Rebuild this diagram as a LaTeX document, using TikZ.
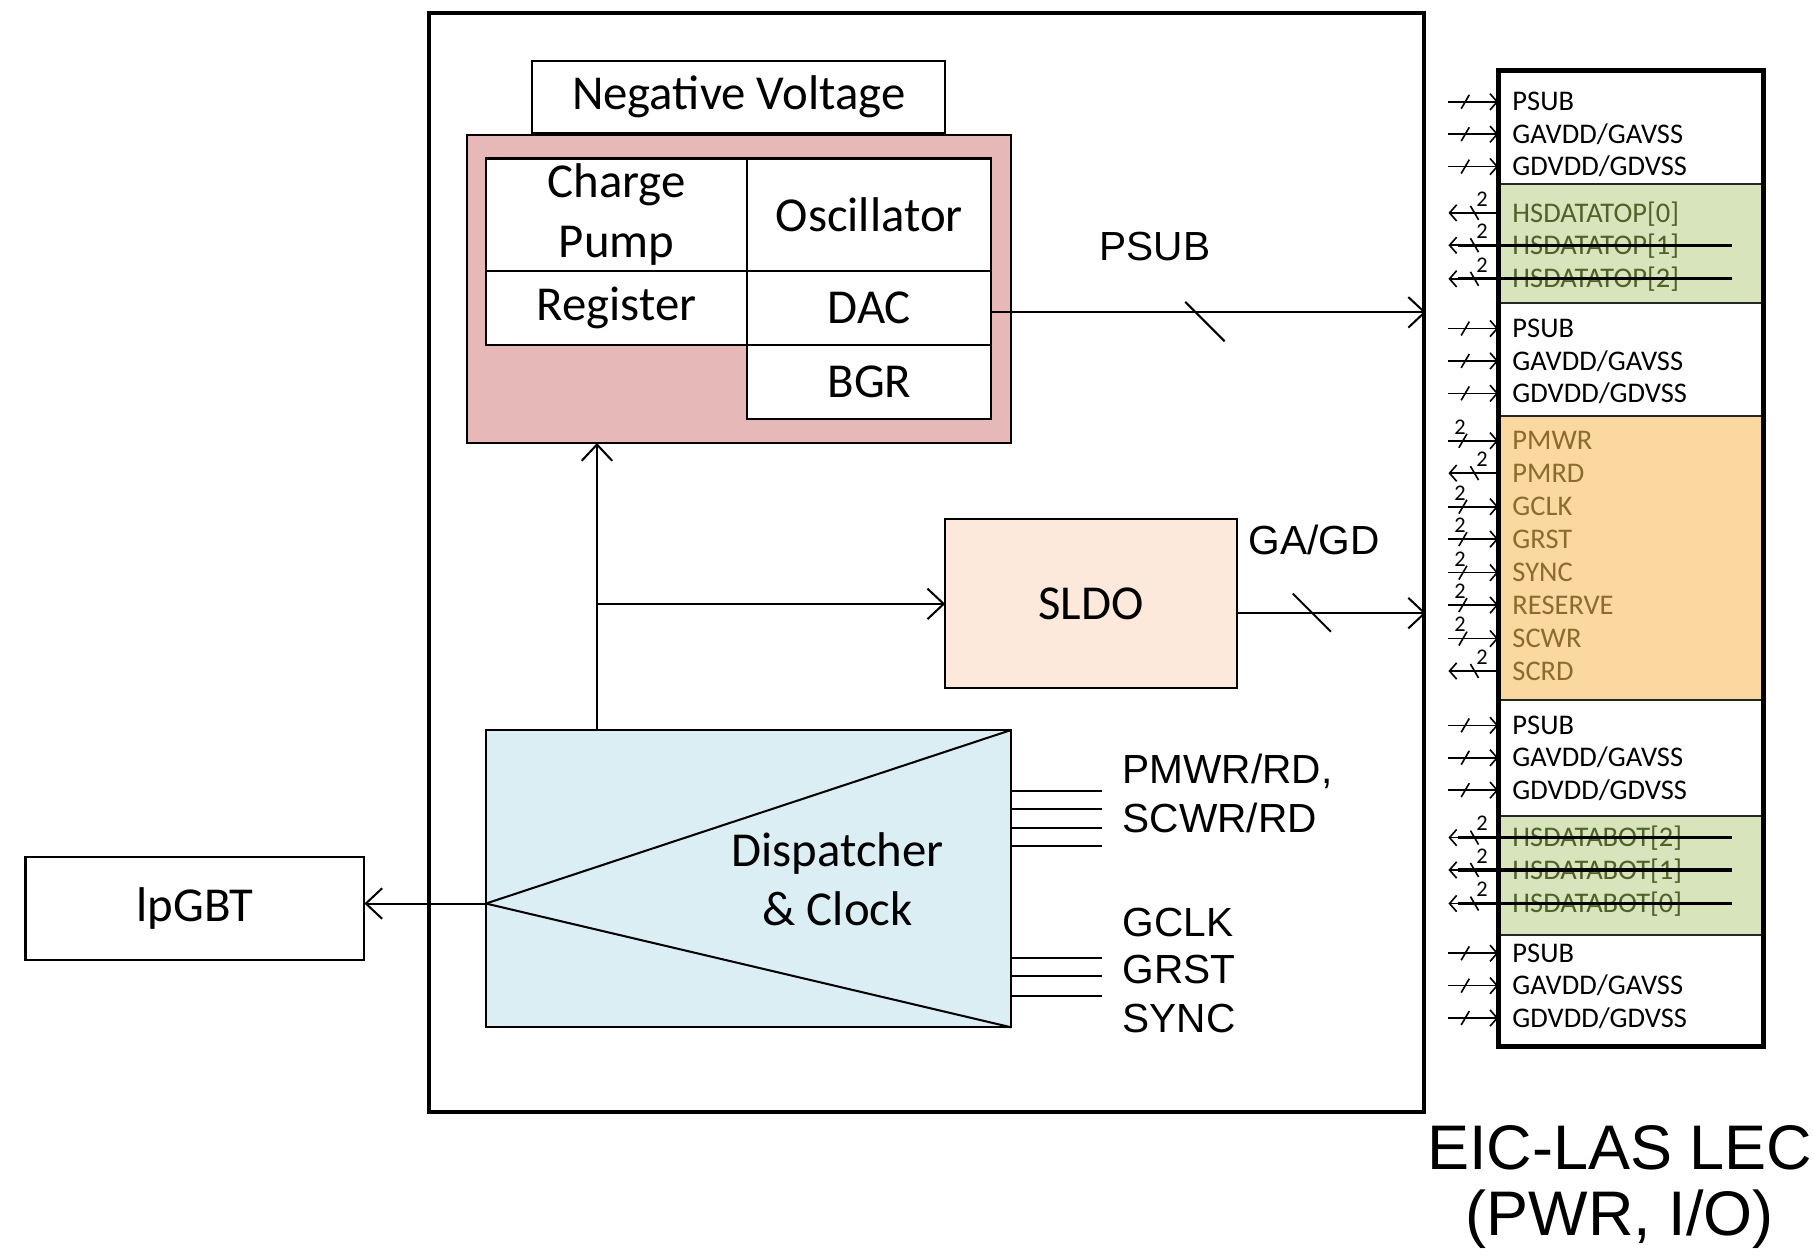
\documentclass[tikz,border=0pt]{standalone}
\usepackage{fontspec}
\setmainfont{Carlito}
\newfontfamily\arialfont{Liberation Sans}
\usepackage{tikz}
\usetikzlibrary{arrows.meta, positioning, calc}
\definecolor{BlockPink}{RGB}{230, 184, 183}
\definecolor{SldoPeach}{RGB}{252, 233, 219}
\definecolor{DispBlue}{RGB}{219, 238, 243}
\definecolor{PinGreen}{RGB}{216, 228, 188}
\definecolor{PinOrange}{RGB}{250, 216, 160}
\definecolor{GreenText}{RGB}{79, 98, 40}
\definecolor{OrangeText}{RGB}{140, 108, 46}

\begin{document}
\begin{tikzpicture}[x=0.02cm, y=-0.02cm,
    blk/.style={draw, line width=1pt, inner sep=0pt, outer sep=0pt, align=center,
                font=\fontsize{24}{29.5}\selectfont},
    sig/.style={line width=1pt, -{Straight Barb[length=8pt, width=15pt]}},
    lbl/.style={anchor=west, inner sep=0pt, font=\arialfont\fontsize{20}{24}\selectfont},
    pinlbl/.style={anchor=west, inner sep=0pt, text height=9pt, text depth=0pt,
                   font=\fontsize{14}{16}\selectfont},
    pintip/.style={line width=0.8pt, -{Straight Barb[length=3.5pt, width=8pt]}},
    strike/.style={line width=1.5pt},
    two/.style={inner sep=0pt, font=\fontsize{11}{11}\selectfont},
    pwpin/.pic={\draw[pintip] (-43,0) -- (0,0);
                \draw[line width=0.8pt] (-32,6) -- (-25,-6);},
    inpin/.pic={\draw[pintip] (-43,0) -- (0,0);
                \draw[line width=0.8pt] (-34,6) -- (-27,-6);
                \node[two] at (-33,-12) {2};},
    outpin/.pic={\draw[pintip] (0,0) -- (-43,0);
                 \draw[line width=0.8pt] (-24,-6) -- (-17,6);
                 \node[two] at (-14,-12) {2};}
  ]
  \useasboundingbox (0,0) rectangle (1568,1087);

  % chip outline
  \node[draw, line width=2pt, minimum width=17.2cm, minimum height=19cm] (chip) at (801,486) {};

  % negative voltage block
  \node[blk, minimum width=7.14cm, minimum height=1.24cm] (negv) at (638.5,84) {Negative Voltage};
  \node[blk, fill=BlockPink, minimum width=9.4cm, minimum height=5.32cm] (nvblk) at (639,250) {};
  \node[blk, fill=white, minimum width=4.52cm, minimum height=1.94cm] (pump) at (533,185.5) {Charge\\Pump};
  \node[blk, fill=white, minimum width=4.22cm, minimum height=1.94cm, right=0pt of pump] (osc) {Oscillator};
  \node[blk, fill=white, minimum width=4.52cm, minimum height=1.28cm, below=0pt of pump] (reg) {Register};
  \node[blk, fill=white, minimum width=4.22cm, minimum height=1.28cm, below=0pt of osc] (dac) {DAC};
  \node[blk, fill=white, minimum width=4.22cm, minimum height=1.28cm, below=0pt of dac] (bgr) {BGR};

  % SLDO, dispatcher, lpGBT
  \node[blk, fill=SldoPeach, minimum width=5.04cm, minimum height=2.92cm] (sldo) at (943,522) {SLDO};
  \node[blk, fill=DispBlue, minimum width=9.08cm, minimum height=5.14cm] (disp) at (647,759.5) {};
  \coordinate (disptip) at (disp.west |- 0,781);
  \draw[line width=1pt] (disptip) -- (disp.north east);
  \draw[line width=1pt] (disptip) -- (disp.south east);
  \node[font=\fontsize{24}{29.5}\selectfont, align=center] (disptxt) at (724,760) {Dispatcher\\\& Clock};
  \node[blk, minimum width=5.86cm, minimum height=1.78cm] (lpgbt) at (168.5,785.5) {lpGBT};
  \draw[sig] (disptip) -- (lpgbt.east |- disptip);

  % internal feeds
  \coordinate (feed) at (516,0 |- disp.north);
  \coordinate (branch) at (feed |- sldo.west);
  \draw[sig] (feed) -- (feed |- nvblk.south);
  \draw[sig] (branch) -- (sldo.west);

  % outputs to the LEC
  \coordinate (dacout) at ($(dac.east)+(0,4)$);
  \draw[sig] (dacout) -- (chip.east |- dacout);
  \coordinate (psubmark) at ($(dacout)!0.47!(chip.east |- dacout)$);
  \draw[line width=1pt] (psubmark) ++(-9,-9) -- ++(34,34);
  \node[lbl] (psublbl) at (950,213) {PSUB};
  \coordinate (sldoout) at ($(sldo.east)+(0,8)$);
  \draw[sig] (sldoout) -- (chip.east |- sldoout);
  \coordinate (gamark) at ($(sldoout)!0.4!(chip.east |- sldoout)$);
  \draw[line width=1pt] (gamark) ++(-17,-17) -- ++(33,33);
  \node[lbl] (galbl) at (1079,467) {GA/GD};

  % dispatcher buses
  \foreach \y in {684,699,716,731,828,844,861}
    \draw[line width=1pt] (disp.east |- 0,\y) -- ++(79,0);
  \node[lbl] (pmwrlbl) at (970,667) {PMWR/RD,};
  \node[lbl] (scwrlbl) at (970,707) {SCWR/RD};
  \node[lbl] (gclklbl) at (970,797) {GCLK};
  \node[lbl] (grstlbl) at (970,838) {GRST};
  \node[lbl] (synclbl) at (970,880) {SYNC};

  % LEC pin table
  \node[minimum width=4.58cm, minimum height=16.88cm, inner sep=0pt, outer sep=0pt] (lec) at (1409.5,483) {};
  \filldraw[fill=PinGreen, draw=black!85, line width=1pt] (lec.west |- 0,159) rectangle (lec.east |- 0,262);
  \filldraw[fill=PinOrange, draw=black!85, line width=1pt] (lec.west |- 0,360) rectangle (lec.east |- 0,605);
  \filldraw[fill=PinGreen, draw=black!85, line width=1pt] (lec.west |- 0,705) rectangle (lec.east |- 0,808);
  \draw[line width=2.4pt] (lec.north west) rectangle (lec.south east);

  \foreach \y/\txt/\kind/\col [count=\i] in {
      88/PSUB/pwpin/black, 116/{GAVDD/GAVSS}/pwpin/black, 144/{GDVDD/GDVSS}/pwpin/black,
      184/{HSDATATOP[0]}/outpin/GreenText, 212/{HSDATATOP[1]}/outpin/GreenText, 241/{HSDATATOP[2]}/outpin/GreenText,
      284/PSUB/pwpin/black, 312/{GAVDD/GAVSS}/pwpin/black, 340/{GDVDD/GDVSS}/pwpin/black,
      381/PMWR/inpin/OrangeText, 409/PMRD/outpin/OrangeText, 438/GCLK/inpin/OrangeText,
      466/GRST/inpin/OrangeText, 495/SYNC/inpin/OrangeText, 523/RESERVE/inpin/OrangeText,
      552/SCWR/inpin/OrangeText, 580/SCRD/outpin/OrangeText,
      627/PSUB/pwpin/black, 655/{GAVDD/GAVSS}/pwpin/black, 683/{GDVDD/GDVSS}/pwpin/black,
      724/{HSDATABOT[2]}/outpin/GreenText, 752/{HSDATABOT[1]}/outpin/GreenText, 781/{HSDATABOT[0]}/outpin/GreenText,
      824/PSUB/pwpin/black, 852/{GAVDD/GAVSS}/pwpin/black, 880/{GDVDD/GDVSS}/pwpin/black} {
    \node[pinlbl, text=\col] (pin\i) at (1307,\y) {\txt};
    \pic at (lec.west |- pin\i) {\kind};
  }
  \foreach \i in {5,6,21,22,23}
    \draw[strike] ($(lec.west |- pin\i)+(-35,0)$) -- ++(237,0);

  \node[font=\arialfont\fontsize{31}{32.4}\selectfont, align=center] (lectitle) at (1400,1026) {EIC-LAS LEC\\(PWR, I/O)};
\end{tikzpicture}
\end{document}
